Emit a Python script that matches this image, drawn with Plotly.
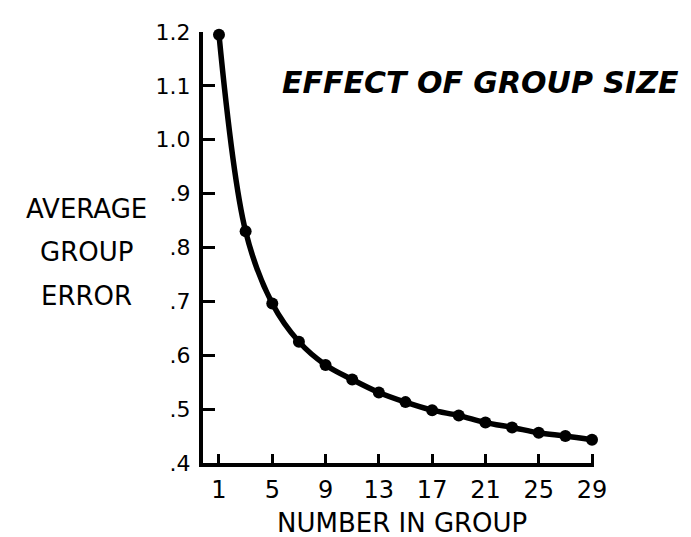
import plotly.graph_objects as go

# Data
group_size = [1, 3, 5, 7, 9, 11, 13, 15, 17, 19, 21, 23, 25, 27, 29]
avg_error = [1.195, 0.830, 0.696, 0.625, 0.582, 0.555, 0.531, 0.513, 0.498,
             0.488, 0.475, 0.466, 0.456, 0.450, 0.443]

x_tick_vals = [1, 5, 9, 13, 17, 21, 25, 29]
y_tick_vals = [0.4, 0.5, 0.6, 0.7, 0.8, 0.9, 1.0, 1.1, 1.2]
y_tick_text = [".4", ".5", ".6", ".7", ".8", ".9", "1.0", "1.1", "1.2"]

W, H = 691, 537
L, R, T, B = 195, 105, 21, 82
PW, PH = W - L - R, H - T - B

def px_x(p):
    return (p - L) / PW

def px_y(p):
    return (H - B - p) / PH

FONT = "DejaVu Sans"

fig = go.Figure()
fig.add_trace(go.Scatter(
    x=group_size, y=avg_error, mode="lines+markers",
    line=dict(color="black", width=5.5, shape="spline", smoothing=1.0),
    marker=dict(color="black", size=12),
    cliponaxis=False, showlegend=False,
))

fig.update_layout(
    width=W, height=H,
    margin=dict(l=L, r=R, t=T, b=B, pad=0),
    paper_bgcolor="white", plot_bgcolor="white",
    font=dict(family=FONT, color="black"),
    xaxis=dict(
        range=[-0.2, 29.15], tickvals=x_tick_vals,
        ticks="inside", ticklen=9, tickwidth=2.5, tickcolor="black",
        showline=True, linewidth=4, linecolor="black",
        showgrid=False, zeroline=False,
        tickfont=dict(size=24, family=FONT, color="black"),
        ticklabelstandoff=2,
    ),
    yaxis=dict(
        range=[0.4, 1.2], tickvals=y_tick_vals, ticktext=y_tick_text,
        ticks="inside", ticklen=12, tickwidth=2.5, tickcolor="black",
        showline=True, linewidth=4, linecolor="black",
        showgrid=False, zeroline=False,
        tickfont=dict(size=22, family=FONT, color="black"),
        ticklabelstandoff=4,
    ),
)

annots = [
    dict(text="<b><i>EFFECT OF GROUP SIZE</i></b>", x=px_x(472), y=px_y(72),
         font=dict(size=30, family=FONT, color="black")),
    dict(text="AVERAGE", x=px_x(78), y=px_y(199), font=dict(size=26, family=FONT, color="black")),
    dict(text="GROUP", x=px_x(78), y=px_y(243), font=dict(size=26, family=FONT, color="black")),
    dict(text="ERROR", x=px_x(78), y=px_y(287), font=dict(size=26, family=FONT, color="black")),
    dict(text="NUMBER IN GROUP", x=px_x(394), y=px_y(515), font=dict(size=26, family=FONT, color="black")),
]
for a in annots:
    fig.add_annotation(xref="paper", yref="paper", xanchor="center", yanchor="middle",
                       showarrow=False, **a)

fig.write_html("out.html")
